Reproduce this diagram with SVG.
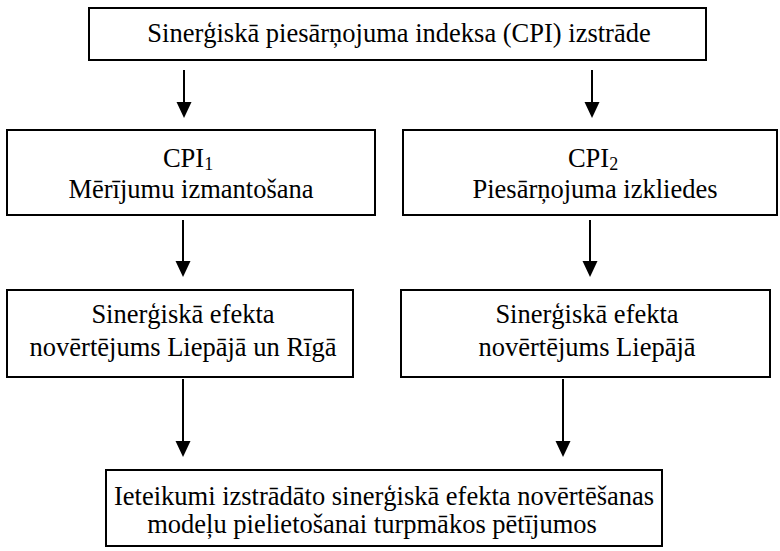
<svg xmlns="http://www.w3.org/2000/svg" width="780" height="551" viewBox="0 0 780 551">
<defs>
<style>
.box{fill:#fff;stroke:#000;stroke-width:2}
.t{font-family:"Liberation Serif","Times New Roman",serif;font-size:26.5px;fill:#000;text-anchor:middle}
.c{stroke:#000;stroke-width:2;fill:none}
.h{fill:#000;stroke:none}
</style>
</defs>
<rect width="780" height="551" fill="#fff"/>
<g id="connectors">
<line class="c" x1="184" y1="70" x2="184" y2="104"/><path class="h" d="M176.5,102 L191.5,102 L184,118 Z"/>
<line class="c" x1="592" y1="70" x2="592" y2="104"/><path class="h" d="M584.5,102 L599.5,102 L592,118 Z"/>
<line class="c" x1="183" y1="220" x2="183" y2="263"/><path class="h" d="M175.5,261 L190.5,261 L183,277 Z"/>
<line class="c" x1="590" y1="220" x2="590" y2="263"/><path class="h" d="M582.5,261 L597.5,261 L590,277 Z"/>
<line class="c" x1="183" y1="379" x2="183" y2="443"/><path class="h" d="M175.5,441 L190.5,441 L183,457 Z"/>
<line class="c" x1="563" y1="379" x2="563" y2="443"/><path class="h" d="M555.5,441 L570.5,441 L563,457 Z"/>
</g>
<g id="n-top">
<rect class="box" x="89" y="8" width="617" height="52"/>
<text class="t" x="399" y="42">Sinerģiskā piesārņojuma indeksa (CPI) izstrāde</text>
</g>
<g id="n-cpi1">
<rect class="box" x="7" y="130" width="368" height="85"/>
<text class="t" x="188" y="167">CPI<tspan font-size="18" dy="3">1</tspan></text>
<text class="t" x="191" y="198">Mērījumu izmantošana</text>
</g>
<g id="n-cpi2">
<rect class="box" x="403" y="130" width="374" height="85"/>
<text class="t" x="593" y="167">CPI<tspan font-size="18" dy="3">2</tspan></text>
<text class="t" x="595" y="198">Piesārņojuma izkliedes</text>
</g>
<g id="n-eff1">
<rect class="box" x="7" y="290" width="346" height="87"/>
<text class="t" x="183" y="323">Sinerģiskā efekta</text>
<text class="t" x="183" y="356">novērtējums Liepājā un Rīgā</text>
</g>
<g id="n-eff2">
<rect class="box" x="401" y="290" width="369" height="87"/>
<text class="t" x="587" y="323">Sinerģiskā efekta</text>
<text class="t" x="587" y="356">novērtējums Liepājā</text>
</g>
<g id="n-bottom">
<rect class="box" x="106" y="470" width="556" height="76"/>
<text class="t" x="384" y="505">Ieteikumi izstrādāto sinerģiskā efekta novērtēšanas</text>
<text class="t" x="372" y="533">modeļu pielietošanai turpmākos pētījumos</text>
</g>
</svg>
